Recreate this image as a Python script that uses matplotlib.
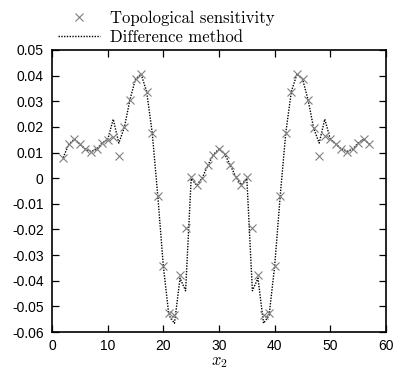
"""
plot.py

Topological sensitivity vs. difference method along x2 (gnuplot-style look).
"""

# Imports -------------------
import matplotlib
matplotlib.use("Agg")
import matplotlib.pyplot as plt
from matplotlib.lines import Line2D

# Data ----------------------
x_pos = list(range(2, 58))

topo_sens = [
    0.0080, 0.0132, 0.0152, 0.0133, 0.0113, 0.0104, 0.0113, 0.0137, 0.0150, 0.0162,   # 2-11
    0.0088, 0.0198, 0.0306, 0.0387, 0.0406, 0.0338, 0.0178, -0.0068, -0.0343, -0.0527,  # 12-21
    -0.0534, -0.0378, -0.0193, 0.0006, -0.0028, 0.0002, 0.0050, 0.0092, 0.0115, 0.0095,  # 22-31
    0.0052, 0.0006, -0.0026, 0.0006, -0.0193, -0.0378, -0.0534, -0.0527, -0.0343, -0.0068,  # 32-41
    0.0178, 0.0338, 0.0406, 0.0387, 0.0306, 0.0195, 0.0088, 0.0165, 0.0152, 0.0133,  # 42-51
    0.0113, 0.0104, 0.0113, 0.0137, 0.0152, 0.0133,  # 52-57
]

diff_method = [
    0.0080, 0.0132, 0.0152, 0.0133, 0.0113, 0.0104, 0.0113, 0.0137, 0.0150, 0.0230,   # 2-11
    0.0137, 0.0198, 0.0306, 0.0387, 0.0406, 0.0338, 0.0178, -0.0068, -0.0343, -0.0535,  # 12-21
    -0.0566, -0.0390, -0.0439, -0.0002, -0.0028, 0.0002, 0.0050, 0.0092, 0.0115, 0.0095,  # 22-31
    0.0052, 0.0006, -0.0026, -0.0002, -0.0439, -0.0390, -0.0566, -0.0535, -0.0343, -0.0068,  # 32-41
    0.0178, 0.0338, 0.0406, 0.0387, 0.0306, 0.0195, 0.0137, 0.0230, 0.0152, 0.0133,  # 42-51
    0.0113, 0.0104, 0.0113, 0.0137, 0.0152, 0.0133,  # 52-57
]

x_ticks = [0, 10, 20, 30, 40, 50, 60]
y_ticks = [0.05, 0.04, 0.03, 0.02, 0.01, 0.0, -0.01, -0.02, -0.03, -0.04, -0.05, -0.06]
y_tick_labels = ["0.05", "0.04", "0.03", "0.02", "0.01", "0",
                 "-0.01", "-0.02", "-0.03", "-0.04", "-0.05", "-0.06"]

# Figure --------------------
plt.rcParams["mathtext.fontset"] = "cm"
fig = plt.figure(figsize=(3.97, 3.72), dpi=100)
ax = fig.add_axes([52 / 397, 1 - 332 / 372, (386 - 52) / 397, (332 - 50) / 372])

ax.plot(x_pos, diff_method, color="black", linestyle=(0, (1, 1)), linewidth=1.0, zorder=2)
ax.plot(x_pos, topo_sens, linestyle="none", marker="x", markersize=6,
        markeredgewidth=0.8, color="#7f7f7f", zorder=3)

ax.set_xlim(0, 60)
ax.set_ylim(-0.06, 0.05)
ax.set_xticks(x_ticks)
ax.set_xticklabels([str(t) for t in x_ticks])
ax.set_yticks(y_ticks)
ax.set_yticklabels(y_tick_labels)

for lab in ax.get_xticklabels() + ax.get_yticklabels():
    lab.set_fontfamily("Liberation Sans")
    lab.set_fontsize(10)

ax.tick_params(direction="in", length=5, width=0.9, top=True, right=True)
ax.tick_params(axis="y", pad=6)
ax.tick_params(axis="x", pad=5)
for sp in ax.spines.values():
    sp.set_linewidth(1.2)

ax.set_xlabel("$x_2$", fontsize=12, labelpad=-1)

# Legend --------------------
handles = [
    Line2D([], [], linestyle="none", marker="x", markersize=6,
           markeredgewidth=0.8, color="#7f7f7f"),
    Line2D([], [], color="black", linestyle=(0, (1, 1)), linewidth=1.0),
]
fig.legend(handles, ["Topological sensitivity", "Difference method"],
           loc="upper left", bbox_to_anchor=(50 / 397, 1 - 2 / 372),
           frameon=False, borderpad=0, handlelength=2.5, handletextpad=0.6,
           labelspacing=0.25, prop={"family": "cmr10", "size": 12})

fig.savefig("out.png", dpi=100)
